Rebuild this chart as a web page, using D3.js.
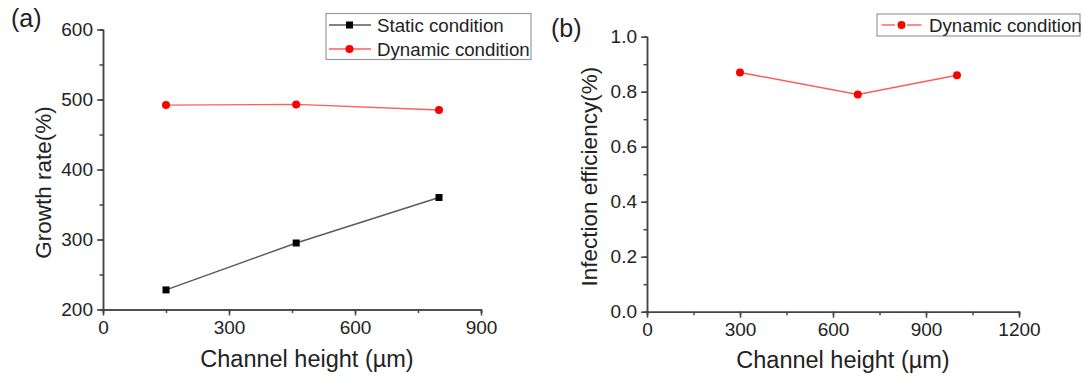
<!DOCTYPE html>
<html>
<head>
<meta charset="utf-8">
<script src="https://cdn.jsdelivr.net/npm/d3@7"></script>
<style>
    body { margin: 0; background: #fff; }
    svg { display: block; font-family: "Liberation Sans", Arial, sans-serif; }
    .axis path, .axis line { stroke: #444; stroke-width: 1.5; }
    .axis text { font-size: 19px; fill: #222; font-family: "Liberation Sans", Arial, sans-serif; }
</style>
</head>
<body>
<svg id="chart" width="1083" height="378"></svg>
<script>
// Panel (a): growth rate vs channel height
var heightsA = [150, 460, 800];
var staticGrowth = [228, 295, 360];
var dynamicGrowth = [492, 493, 485];
var xTicksA = [0, 300, 600, 900];
var yTicksA = [200, 300, 400, 500, 600];

// Panel (b): infection efficiency vs channel height
var heightsB = [300, 680, 1000];
var dynamicInfection = [0.87, 0.79, 0.86];
var xTicksB = [0, 300, 600, 900, 1200];
var yTicksB = [0.0, 0.2, 0.4, 0.6, 0.8, 1.0];

var svg = d3.select("#chart");

// Draw one axis pair with major + minor ticks, Origin style.
function drawAxes(g, x, y, xTicks, yTicks, xMinor, yMinor, yFmt) {
    var ih = y.range()[0];
    g.append("g").attr("class", "axis")
        .attr("transform", "translate(0," + ih + ")")
        .call(d3.axisBottom(x).tickValues(xMinor).tickSize(3.5).tickFormat(""));
    g.append("g").attr("class", "axis")
        .call(d3.axisLeft(y).tickValues(yMinor).tickSize(3.5).tickFormat(""));
    g.append("g").attr("class", "axis")
        .attr("transform", "translate(0," + ih + ")")
        .call(d3.axisBottom(x).tickValues(xTicks).tickSize(6).tickSizeOuter(0)
            .tickPadding(5).tickFormat(d3.format("d")));
    g.append("g").attr("class", "axis")
        .call(d3.axisLeft(y).tickValues(yTicks).tickSize(6).tickSizeOuter(0)
            .tickPadding(4).tickFormat(yFmt));
}

function drawLine(g, xs, ys, x, y, color) {
    var pts = xs.map(function(d, i) { return [d, ys[i]]; });
    g.append("path")
        .datum(pts)
        .attr("fill", "none")
        .attr("stroke", color)
        .attr("stroke-width", 1.4)
        .attr("d", d3.line().x(function(d) { return x(d[0]); }).y(function(d) { return y(d[1]); }));
    return pts;
}

// ---- Panel (a)
var xA = d3.scaleLinear().domain([0, 900]).range([0, 378]);
var yA = d3.scaleLinear().domain([200, 600]).range([280, 0]);
var gA = svg.append("g").attr("transform", "translate(103,29.5)");

drawAxes(gA, xA, yA, xTicksA, yTicksA,
    d3.range(0, 901, 150), d3.range(200, 601, 50), d3.format("d"));

var sPts = drawLine(gA, heightsA, staticGrowth, xA, yA, "#5a5a5a");
gA.selectAll(".sq").data(sPts).enter().append("rect")
    .attr("x", function(d) { return xA(d[0]) - 3.5; })
    .attr("y", function(d) { return yA(d[1]) - 3.5; })
    .attr("width", 7).attr("height", 7)
    .attr("fill", "#000");

var dPts = drawLine(gA, heightsA, dynamicGrowth, xA, yA, "#ff5c5c");
gA.selectAll(".dot").data(dPts).enter().append("circle")
    .attr("cx", function(d) { return xA(d[0]); })
    .attr("cy", function(d) { return yA(d[1]); })
    .attr("r", 4).attr("fill", "#f00");

gA.append("text")
    .attr("x", 204).attr("y", 337)
    .attr("text-anchor", "middle").attr("font-size", 23.5).attr("fill", "#222")
    .text("Channel height (\u00b5m)");
gA.append("text")
    .attr("transform", "translate(-52.5,153) rotate(-90)")
    .attr("text-anchor", "middle").attr("font-size", 22.5).attr("fill", "#222")
    .text("Growth rate(%)");
svg.append("text").attr("x", 11).attr("y", 27)
    .attr("font-size", 25).attr("fill", "#222").text("(a)");

// legend (a)
var legA = svg.append("g").attr("transform", "translate(326,13.5)");
legA.append("rect").attr("width", 205).attr("height", 46)
    .attr("fill", "#fff").attr("stroke", "#999").attr("stroke-width", 1.2);
legA.append("line").attr("x1", 3).attr("x2", 45).attr("y1", 11.5).attr("y2", 11.5)
    .attr("stroke", "#5a5a5a").attr("stroke-width", 1.4);
legA.append("rect").attr("x", 20).attr("y", 8).attr("width", 7).attr("height", 7).attr("fill", "#000");
legA.append("text").attr("x", 51).attr("y", 18.5).attr("font-size", 18.7).attr("fill", "#222")
    .text("Static condition");
legA.append("line").attr("x1", 3).attr("x2", 45).attr("y1", 35.5).attr("y2", 35.5)
    .attr("stroke", "#ff5c5c").attr("stroke-width", 1.4);
legA.append("circle").attr("cx", 23.5).attr("cy", 35.5).attr("r", 4).attr("fill", "#f00");
legA.append("text").attr("x", 51).attr("y", 42).attr("font-size", 18.7).attr("fill", "#222")
    .text("Dynamic condition");

// ---- Panel (b)
var xB = d3.scaleLinear().domain([0, 1200]).range([0, 372]);
var yB = d3.scaleLinear().domain([0, 1]).range([275, 0]);
var gB = svg.append("g").attr("transform", "translate(647,36.7)");

drawAxes(gB, xB, yB, xTicksB, yTicksB,
    d3.range(0, 1201, 150), d3.range(0, 1.001, 0.1), d3.format(".1f"));

var bPts = drawLine(gB, heightsB, dynamicInfection, xB, yB, "#ff5c5c");
gB.selectAll(".dot").data(bPts).enter().append("circle")
    .attr("cx", function(d) { return xB(d[0]); })
    .attr("cy", function(d) { return yB(d[1]); })
    .attr("r", 4).attr("fill", "#f00");

gB.append("text")
    .attr("x", 196).attr("y", 331)
    .attr("text-anchor", "middle").attr("font-size", 23.5).attr("fill", "#222")
    .text("Channel height (\u00b5m)");
gB.append("text")
    .attr("transform", "translate(-50,140) rotate(-90)")
    .attr("text-anchor", "middle").attr("font-size", 22.5).attr("fill", "#222")
    .text("Infection efficiency(%)");
svg.append("text").attr("x", 551).attr("y", 37)
    .attr("font-size", 25).attr("fill", "#222").text("(b)");

// legend (b)
var legB = svg.append("g").attr("transform", "translate(877,14)");
legB.append("rect").attr("width", 203).attr("height", 22)
    .attr("fill", "#fff").attr("stroke", "#999").attr("stroke-width", 1.2);
legB.append("line").attr("x1", 4.5).attr("x2", 18).attr("y1", 11).attr("y2", 11)
    .attr("stroke", "#ff5c5c").attr("stroke-width", 1.4);
legB.append("line").attr("x1", 30).attr("x2", 44.5).attr("y1", 11).attr("y2", 11)
    .attr("stroke", "#ff5c5c").attr("stroke-width", 1.4);
legB.append("circle").attr("cx", 24.5).attr("cy", 11).attr("r", 4).attr("fill", "#f00");
legB.append("text").attr("x", 52).attr("y", 17.5).attr("font-size", 18.7).attr("fill", "#222")
    .text("Dynamic condition");
</script>
</body>
</html>
